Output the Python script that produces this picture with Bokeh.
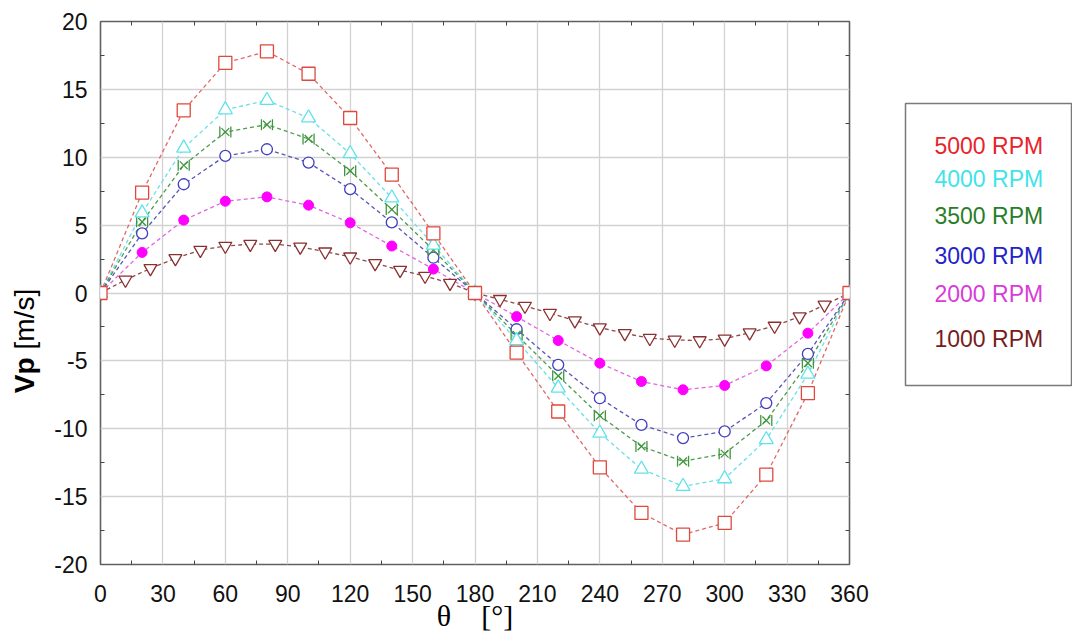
from bokeh.plotting import figure
from bokeh.models import Range1d, FixedTicker, LinearAxis
from bokeh.layouts import row
from bokeh.core.properties import value
from bokeh.embed import file_html
from bokeh.resources import INLINE
import math

# ---------------- data ----------------
theta20 = [0, 20, 40, 60, 80, 100, 120, 140, 160, 180, 200, 220, 240, 260, 280, 300, 320, 340, 360]
v5000 = [0, 7.4, 13.46, 16.95, 17.8, 16.15, 12.89, 8.72, 4.39, 0, -4.39, -8.73, -12.84, -16.2, -17.8, -16.94, -13.38, -7.38, 0]
v4000 = [0, 5.9, 10.68, 13.5, 14.19, 12.9, 10.27, 7.01, 3.53, 0, -3.5, -7.0, -10.32, -12.97, -14.24, -13.68, -10.8, -5.98, 0]
v3500 = [0, 5.24, 9.41, 11.86, 12.4, 11.35, 9.0, 6.15, 3.16, 0, -3.09, -6.1, -9.04, -11.3, -12.4, -11.84, -9.39, -5.17, 0]
v3000 = [0, 4.39, 8.01, 10.1, 10.59, 9.61, 7.65, 5.2, 2.6, 0, -2.67, -5.29, -7.75, -9.71, -10.69, -10.2, -8.11, -4.49, 0]
v2000 = [0, 2.99, 5.37, 6.76, 7.08, 6.47, 5.17, 3.46, 1.76, 0, -1.74, -3.5, -5.17, -6.52, -7.13, -6.81, -5.37, -2.96, 0]
theta12 = [0, 12, 24, 36, 48, 60, 72, 84, 96, 108, 120, 132, 144, 156, 168, 180,
           192, 204, 216, 228, 240, 252, 264, 276, 288, 300, 312, 324, 336, 348, 360]
v1000 = [0, 0.96, 1.81, 2.55, 3.16, 3.46, 3.6, 3.6, 3.4, 3.04, 2.67, 2.18, 1.69, 1.25, 0.73, 0,
         -0.46, -0.96, -1.49, -2.03, -2.55, -2.97, -3.33, -3.46, -3.5, -3.38, -2.92, -2.43, -1.74, -0.88, 0]

legend_labels = ["5000 RPM", "4000 RPM", "3500 RPM", "3000 RPM", "2000 RPM", "1000 RPM"]
x_ticks = list(range(0, 361, 30))
x_minor = list(range(15, 360, 30))
y_ticks = list(range(-20, 21, 5))
y_minor = [-17.5, -12.5, -7.5, -2.5, 2.5, 7.5, 12.5, 17.5]
NBSP = "\u00a0"
x_title = "θ" + NBSP * 4 + "[°]"
y_title_bold = "Vp"
y_title_rest = "[m/s]"

H = 634
SANS = "Liberation Sans"

# ---------------- main plot ----------------
p = figure(width=854, height=H, output_backend="svg", toolbar_location=None,
           x_range=Range1d(0, 360), y_range=Range1d(-20, 20),
           min_border_left=59, min_border_right=46, min_border_top=21, min_border_bottom=70)
p.frame_align = False
p.background_fill_color = "white"
p.border_fill_color = "white"
p.outline_line_color = "#606060"
p.outline_line_width = 1.6

for ax, tk, mn in ((p.xaxis[0], x_ticks, x_minor), (p.yaxis[0], y_ticks, y_minor)):
    ax.ticker = FixedTicker(ticks=tk, minor_ticks=mn)
    ax.major_label_overrides = {t: str(t) for t in tk}
    ax.axis_line_color = None
    ax.major_tick_line_color = None
    ax.minor_tick_in = 4
    ax.minor_tick_out = 0
    ax.minor_tick_line_color = "#444444"
    ax.major_label_text_font = SANS
    ax.major_label_text_font_size = "23px"
    ax.major_label_text_color = "#111111"
p.xaxis[0].major_label_standoff = 14
p.yaxis[0].major_label_standoff = 7
p.xaxis[0].axis_label = x_title
p.xaxis[0].axis_label_text_font = "Liberation Serif"
p.xaxis[0].axis_label_text_font_size = "30px"
p.xaxis[0].axis_label_text_font_style = "normal"
p.xaxis[0].axis_label_text_color = "#000000"
p.xaxis[0].axis_label_standoff = -6

for loc, mn in (("above", x_minor), ("right", y_minor)):
    ax = LinearAxis(ticker=FixedTicker(ticks=[], minor_ticks=mn))
    ax.axis_line_color = None
    ax.major_tick_line_color = None
    ax.minor_tick_in = 4
    ax.minor_tick_out = 0
    ax.minor_tick_line_color = "#444444"
    ax.major_label_standoff = 0
    p.add_layout(ax, loc)

p.xgrid.ticker = FixedTicker(ticks=x_ticks)
p.ygrid.ticker = FixedTicker(ticks=y_ticks)
p.grid.grid_line_color = "#d2d2d2"
p.grid.grid_line_width = 1.3

DASH = "4 3"
p.line(theta20, v5000, line_color="#e06868", line_width=1.3, line_dash=DASH)
p.line(theta20, v4000, line_color="#6adfe8", line_width=1.3, line_dash=DASH)
p.line(theta20, v3500, line_color="#4f9a4f", line_width=1.3, line_dash=DASH)
p.line(theta20, v3000, line_color="#5656b8", line_width=1.3, line_dash=DASH)
p.line(theta20, v2000, line_color="#e068e0", line_width=1.3, line_dash=DASH)
p.line(theta12, v1000, line_color="#8a4a4a", line_width=1.3, line_dash=DASH)

p.scatter(theta12, v1000, marker="inverted_triangle", size=13, fill_color="white",
          line_color="#8a3030", line_width=1.3)
p.scatter(theta20, v2000, marker="circle", size=10, fill_color="#ff00ff",
          line_color="#ff00ff", line_width=1)
p.scatter(theta20, v3000, marker="circle", size=11, fill_color="white",
          line_color="#4040c0", line_width=1.3)
# bowtie marker: diagonals plus the two vertical sides
p.scatter(theta20, v3500, marker="x", size=11, line_color="#3f963f", line_width=1.3)
p.rect(theta20, v3500, width=11, height=11, width_units="screen", height_units="screen",
       fill_color=None, line_color="#3f963f", line_width=1.3,
       line_dash="11 11", line_dash_offset=11)
p.scatter(theta20, v4000, marker="triangle", size=14, fill_color="white",
          line_color="#5fe3ea", line_width=1.3)
p.scatter(theta20, v5000, marker="square", size=13, fill_color="white",
          line_color="#e0483c", line_width=1.3)

# ---------------- y-axis title strip ----------------
t = figure(width=41, height=H, output_backend="svg", toolbar_location=None,
           x_range=Range1d(0, 41), y_range=Range1d(0, H),
           x_axis_type=None, y_axis_type=None,
           min_border_left=0, min_border_right=0, min_border_top=0, min_border_bottom=0)
t.frame_align = False
t.outline_line_color = None
t.grid.visible = False
t.text(x=[24], y=[H - 357], text=[y_title_bold], angle=math.pi / 2,
       text_align="right", text_baseline="middle",
       text_font=value(SANS), text_font_size="28px", text_font_style="bold",
       text_color="#000000")
t.text(x=[24], y=[H - 349], text=[y_title_rest], angle=math.pi / 2,
       text_align="left", text_baseline="middle",
       text_font=value(SANS), text_font_size="28px",
       text_color="#000000")

# ---------------- legend box ----------------
BW, BH = 166, 282
lg = figure(width=177, height=H, output_backend="svg", toolbar_location=None,
            x_range=Range1d(0, BW), y_range=Range1d(0, BH),
            x_axis_type=None, y_axis_type=None,
            min_border_left=10, min_border_right=1, min_border_top=103,
            min_border_bottom=H - 385)
lg.frame_align = False
lg.outline_line_color = "#7a7a7a"
lg.outline_line_width = 1.5
lg.grid.visible = False
legend_colors = ["#e8232b", "#3fe3ea", "#2a7d2a", "#2323c8", "#d83cd8", "#761c1c"]
legend_y = [240, 207, 170, 130, 92, 47]
lg.text(x=[29] * len(legend_labels), y=legend_y, text=legend_labels,
        text_color=legend_colors, text_align="left", text_baseline="middle",
        text_font=value(SANS), text_font_size="23px")

layout = row(t, p, lg)
open("out.html", "w").write(file_html(layout, INLINE))
